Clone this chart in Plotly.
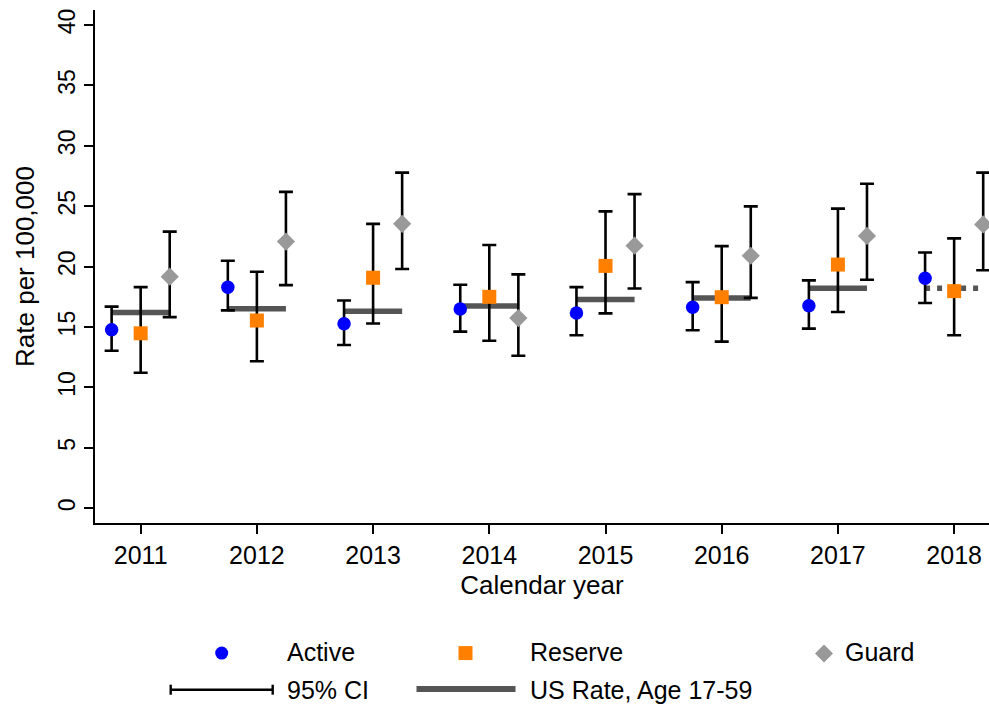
import plotly.graph_objects as go

# Rates per 100,000 by component, with 95% confidence limits
years = [2011, 2012, 2013, 2014, 2015, 2016, 2017, 2018]

active = [14.77, 18.30, 15.27, 16.49, 16.16, 16.63, 16.77, 19.03]
active_lo = [13.04, 16.38, 13.51, 14.62, 14.32, 14.73, 14.87, 16.99]
active_hi = [16.69, 20.48, 17.20, 18.50, 18.30, 18.72, 18.86, 21.17]

reserve = [14.48, 15.54, 19.08, 17.50, 20.06, 17.47, 20.17, 17.97]
reserve_lo = [11.22, 12.17, 15.29, 13.87, 16.13, 13.79, 16.24, 14.32]
reserve_hi = [18.30, 19.58, 23.54, 21.79, 24.57, 21.70, 24.80, 22.34]

guard = [19.17, 22.07, 23.54, 15.74, 21.73, 20.90, 22.54, 23.49]
guard_lo = [15.82, 18.47, 19.80, 12.62, 18.19, 17.41, 18.91, 19.70]
guard_hi = [22.90, 26.19, 27.78, 19.36, 26.00, 24.99, 26.86, 27.78]

# US population rate, age 17-59 (last year is projected)
us_rate = [16.21, 16.52, 16.30, 16.74, 17.27, 17.41, 18.22, 18.22]
us_projected = [False, False, False, False, False, False, False, True]

y_ticks = [0, 5, 10, 15, 20, 25, 30, 35, 40]

FONT = "Liberation Sans, Arial, sans-serif"
BLUE = "#0000ff"
ORANGE = "#ff8000"
GRAY = "#999999"
LINE_GRAY = "#555555"

fig = go.Figure()

# US rate segments spanning each year's group of markers
half = 0.25
solid_x, solid_y, dot_x, dot_y = [], [], [], []
for yr, r, proj in zip(years, us_rate, us_projected):
    tx, ty = (dot_x, dot_y) if proj else (solid_x, solid_y)
    tx += [yr - half, yr + half, None]
    ty += [r, r, None]

fig.add_trace(go.Scatter(x=solid_x, y=solid_y, mode="lines",
                         line=dict(color=LINE_GRAY, width=5.5),
                         showlegend=False, hoverinfo="skip"))
fig.add_trace(go.Scatter(x=dot_x, y=dot_y, mode="lines",
                         line=dict(color=LINE_GRAY, width=5.5, dash="5px,7px"),
                         showlegend=False, hoverinfo="skip"))


def series(vals, lo, hi, offset, symbol, color, size, name):
    return go.Scatter(
        x=[y + offset for y in years], y=vals, mode="markers", name=name,
        marker=dict(symbol=symbol, color=color, size=size, line=dict(width=0)),
        error_y=dict(type="data", symmetric=False,
                     array=[h - v for h, v in zip(hi, vals)],
                     arrayminus=[v - l for v, l in zip(vals, lo)],
                     color="black", thickness=2.6, width=7),
        showlegend=False,
    )


fig.add_trace(series(active, active_lo, active_hi, -half, "circle", BLUE, 13.5, "Active"))
fig.add_trace(series(reserve, reserve_lo, reserve_hi, 0.0, "square", ORANGE, 14, "Reserve"))
fig.add_trace(series(guard, guard_lo, guard_hi, half, "diamond", GRAY, 14, "Guard"))

# Legend drawn below the plot area (pixel positions converted to paper units)
PLOT_L, PLOT_R, PLOT_T, PLOT_B = 95, 989, 10, 522.7


def fx(px):
    return (px - PLOT_L) / (PLOT_R - PLOT_L)


def fy(py):
    return (PLOT_B - py) / (PLOT_B - PLOT_T)


def pix_shape(kind, cx, cy, **kw):
    d = dict(type=kind, xref="paper", yref="paper", xsizemode="pixel", ysizemode="pixel",
             xanchor=fx(cx), yanchor=fy(cy))
    d.update(kw)
    return d


shapes = [
    pix_shape("circle", 221.7, 652.7, x0=-6.5, x1=6.5, y0=-6.5, y1=6.5,
              fillcolor=BLUE, line=dict(width=0)),
    pix_shape("rect", 465.5, 652.7, x0=-7, x1=7, y0=-7, y1=7,
              fillcolor=ORANGE, line=dict(width=0)),
    pix_shape("path", 824, 653, path="M 0,9 L 9,0 L 0,-9 L -9,0 Z",
              fillcolor=GRAY, line=dict(width=0)),
    # 95% CI key
    pix_shape("line", 221.7, 689.3, x0=-51, x1=51, y0=0, y1=0,
              line=dict(color="black", width=2.4)),
    pix_shape("line", 221.7, 689.3, x0=-51, x1=-51, y0=-5, y1=5,
              line=dict(color="black", width=2.4)),
    pix_shape("line", 221.7, 689.3, x0=51, x1=51, y0=-5, y1=5,
              line=dict(color="black", width=2.4)),
    # US rate key
    pix_shape("line", 466, 688.5, x0=-49.5, x1=49.5, y0=0, y1=0,
              line=dict(color=LINE_GRAY, width=6)),
]

labels = [("Active", 285, 652), ("Reserve", 528, 652), ("Guard", 843, 652),
          ("95% CI", 285, 690), ("US Rate, Age 17-59", 528, 690)]
annotations = [
    dict(text=t, x=fx(x), y=fy(y), xref="paper", yref="paper", xanchor="left",
         yanchor="middle", showarrow=False, font=dict(family=FONT, size=25, color="black"))
    for t, x, y in labels
]

fig.update_layout(
    width=989, height=704, autosize=False,
    margin=dict(l=PLOT_L, r=989 - PLOT_R, t=PLOT_T, b=704 - PLOT_B),
    paper_bgcolor="white", plot_bgcolor="white",
    font=dict(family=FONT, color="black"),
    shapes=shapes, annotations=annotations,
    xaxis=dict(
        range=[2010.607, 2018.30], tickmode="array", tickvals=years,
        ticktext=[str(y) for y in years],
        showline=True, linecolor="black", linewidth=2,
        ticks="outside", ticklen=9, tickwidth=2, tickcolor="black",
        showgrid=False, zeroline=False,
        tickfont=dict(family=FONT, size=25),
        title=dict(text="Calendar year", font=dict(family=FONT, size=26), standoff=8),
    ),
    yaxis=dict(
        range=[-1.22, 41.24], tickmode="array", tickvals=y_ticks,
        ticktext=[str(v) for v in y_ticks], tickangle=-90,
        showline=True, linecolor="black", linewidth=2,
        ticks="outside", ticklen=9, tickwidth=2, tickcolor="black",
        showgrid=False, zeroline=False,
        tickfont=dict(family=FONT, size=23),
        title=dict(text="Rate per 100,000", font=dict(family=FONT, size=26), standoff=12),
    ),
)

fig.write_html("out.html")
